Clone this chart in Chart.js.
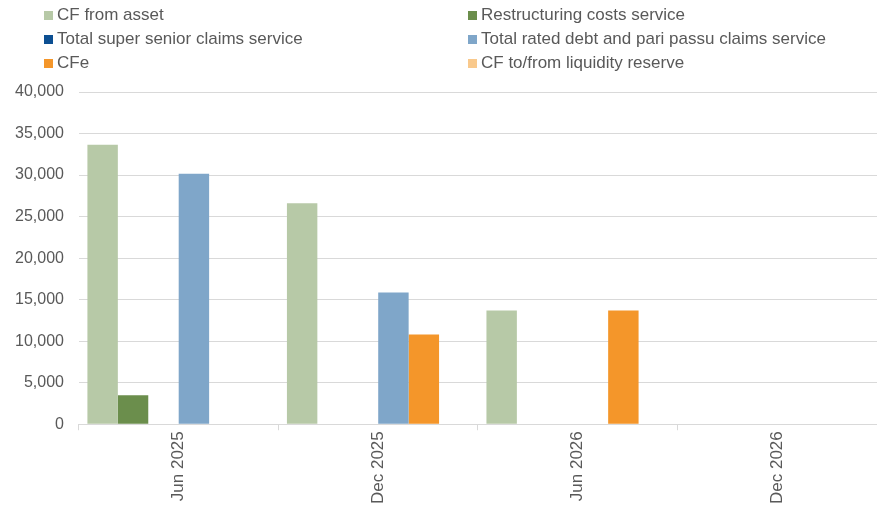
<!DOCTYPE html>
<html>
<head>
    <title>Cash flow chart</title>
    <script src="https://cdn.jsdelivr.net/npm/chart.js@4/dist/chart.umd.min.js"></script>
    <style>
        body { margin: 0; background: #fff; }
        #wrap { position: relative; width: 877px; height: 508px; }
        #legend {
            position: absolute; left: 44px; top: 5px;
            display: grid; grid-template-columns: 424px 400px; row-gap: 4px;
            font-family: "Liberation Sans", Arial, sans-serif; font-size: 17px; color: #595959;
        }
        #legend div { height: 20px; line-height: 20px; white-space: nowrap; }
        #legend span { display: inline-block; width: 9px; height: 9px; margin-right: 4px; }
    </style>
</head>
<body>
<div id="wrap">
    <canvas id="cf-chart" width="877" height="508"></canvas>
    <div id="legend"></div>
</div>
<script>
    var periods = ['Jun 2025', 'Dec 2025', 'Jun 2026', 'Dec 2026'];
    var seriesNames = ['CF from asset', 'Restructuring costs service', 'Total super senior claims service',
        'Total rated debt and pari passu claims service', 'CFe', 'CF to/from liquidity reserve'];
    var cfFromAsset = [33650, 26600, 13700, 0];
    var restructuring = [3500, 0, 0, 0];
    var superSenior = [0, 0, 0, 0];
    var ratedDebt = [30150, 15850, 0, 0];
    var cfe = [0, 10800, 13700, 0];
    var liquidity = [0, 0, 0, 0];
    var colors = ['#b7c9a7', '#6b8e4c', '#0c4f92', '#7fa6c9', '#f4962a', '#f9c98c'];

    var values = [cfFromAsset, restructuring, superSenior, ratedDebt, cfe, liquidity];
    var datasets = values.map(function(v, i) {
        return { label: seriesNames[i], data: v, backgroundColor: colors[i], borderWidth: 0,
                 categoryPercentage: 0.915, barPercentage: 1.0 };
    });

    var fontY = { family: '"Liberation Sans", Arial, sans-serif', size: 16 };
    var fontX = { family: '"Liberation Sans", Arial, sans-serif', size: 17 };
    var ctx = document.getElementById('cf-chart').getContext('2d');
    var chart = new Chart(ctx, {
        type: 'bar',
        data: { labels: periods, datasets: datasets },
        options: {
            responsive: false,
            animation: false,
            layout: { padding: { top: 92, left: 0, right: 0, bottom: 3 } },
            plugins: { legend: { display: false }, tooltip: { enabled: false } },
            scales: {
                x: {
                    grid: { offset: true, drawOnChartArea: false, drawTicks: true, tickLength: 6, color: '#d9d9d9' },
                    border: { display: true, color: '#d9d9d9' },
                    ticks: { font: fontX, color: '#595959', minRotation: 90, maxRotation: 90, padding: 1 }
                },
                y: {
                    min: 0, max: 40000,
                    grid: { drawTicks: false, color: '#d9d9d9' },
                    border: { display: false },
                    ticks: {
                        stepSize: 5000, font: fontY, color: '#595959', padding: 15,
                        callback: function(v) { return v.toLocaleString('en-US'); }
                    }
                }
            }
        }
    });

    // legend in two columns, as in the original
    var legend = document.getElementById('legend');
    seriesNames.forEach(function(name, i) {
        var d = document.createElement('div');
        d.innerHTML = '<span style="background:' + colors[i] + '"></span>' + name;
        legend.appendChild(d);
    });
</script>
</body>
</html>
